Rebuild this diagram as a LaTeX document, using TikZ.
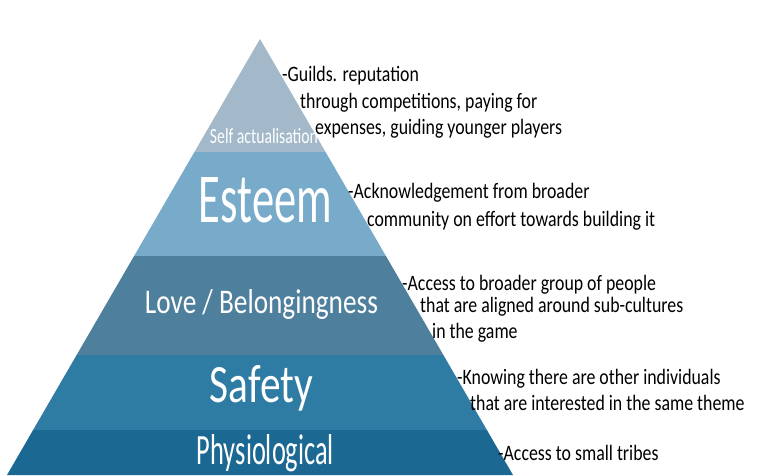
\documentclass[tikz,border=0pt]{standalone}
\usepackage{fontspec}
\usepackage{graphicx}
\setmainfont{Carlito}
\newfontfamily\handfont[FakeStretch=0.81]{Carlito}
\definecolor{self area}{HTML}{A3B9C9}
\definecolor{esteem area}{HTML}{78AACA}
\definecolor{love area}{HTML}{4E7F9C}
\definecolor{safety area}{HTML}{2E7BA3}
\definecolor{physio area}{HTML}{1B6892}
\def\pyramid{(260,39) -- (7,475) -- (513,475) -- cycle}
\newcommand{\levelname}[3]{\resizebox{#1pt}{#2pt}{#3}}
\tikzset{
  level/.style={text=white, anchor=base, inner sep=0pt},
  note/.style={anchor=base west, inner sep=0pt, font=\handfont\fontsize{22}{22}\selectfont}
}

\begin{document}
\begin{tikzpicture}[x=1pt, y=-1pt]
    \useasboundingbox (0,0) rectangle (771,475);
    \begin{scope}
      \clip \pyramid;
      \fill[self area] (0,30) rectangle (771,152);
      \fill[esteem area] (0,152) rectangle (771,256);
      \fill[love area] (0,256) rectangle (771,355);
      \fill[safety area] (0,355) rectangle (771,430);
      \fill[physio area] (0,430) rectangle (771,476);
    \end{scope}
    \node[level] (self) at (264,143) {\levelname{108}{15}{Self actualisation}};
    \node[level] (esteem) at (265.5,222) {\levelname{133}{45}{Esteem}};
    \node[level] (love) at (261.5,313) {\levelname{233}{24}{Love / Belongingness}};
    \node[level] (safety) at (261.5,402) {\levelname{103}{37}{Safety}};
    \node[level] (physio) at (265.5,464) {\levelname{137}{30}{Physiological}};
    \node[note] (guilds) at (282,81) {-Guilds. reputation};
    \node[note] (through) at (300,108) {through competitions, paying for};
    \node[note] (expenses) at (315,134) {expenses, guiding younger players};
    \node[note] (acknow) at (348,198) {-Acknowledgement from broader};
    \node[note] (community) at (367,226) {community on effort towards building it};
    \node[note] (broader) at (402,290) {-Access to broader group of people};
    \node[note] (aligned) at (420,312) {that are aligned around sub-cultures};
    \node[note] (game) at (432,338) {in the game};
    \node[note] (knowing) at (457,384) {-Knowing there are other individuals};
    \node[note] (theme) at (470,410) {that are interested in the same theme};
    \node[note] (tribes) at (498,460) {-Access to small tribes};
\end{tikzpicture}
\end{document}
